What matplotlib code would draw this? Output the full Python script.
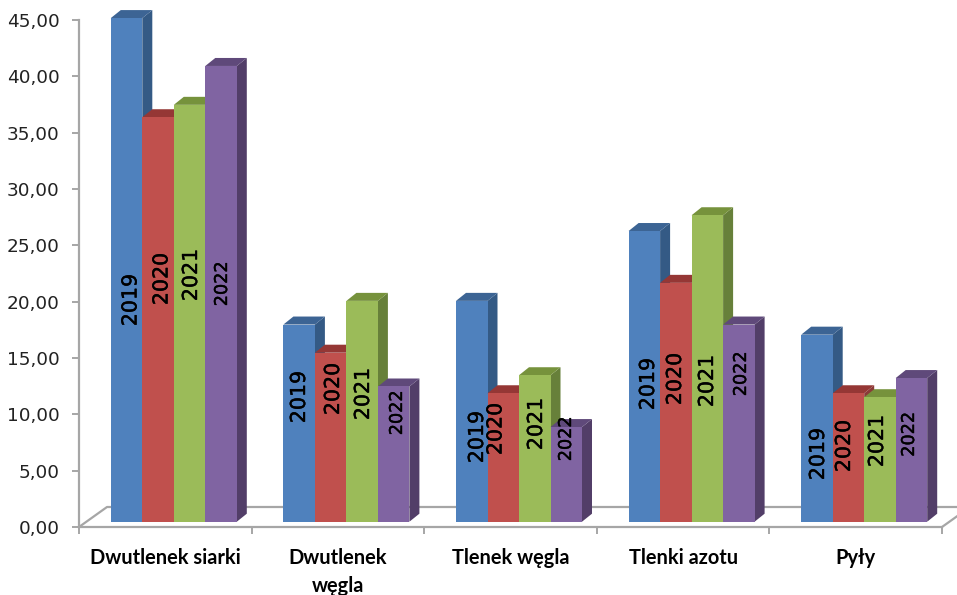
import numpy as np
import matplotlib
matplotlib.use("Agg")
import matplotlib.pyplot as plt
import matplotlib.patheffects as pe
from matplotlib.patches import Polygon

# data
categories = ["Dwutlenek siarki", "Dwutlenek\nwęgla", "Tlenek węgla", "Tlenki azotu", "Pyły"]
years = ["2019", "2020", "2021", "2022"]
values_2019 = [44.7, 17.5, 19.6, 25.8, 16.6]
values_2020 = [35.9, 15.0, 11.4, 21.2, 11.4]
values_2021 = [37.0, 19.6, 13.0, 27.2, 11.05]
values_2022 = [40.45, 12.0, 8.4, 17.5, 12.75]
y_ticks = [0, 5, 10, 15, 20, 25, 30, 35, 40, 45]

series = [values_2019, values_2020, values_2021, values_2022]

# ---------------- layout, in pixels of the 957x595 picture ----------------
W, H = 957, 595
AX_LEFT, AX_RIGHT = 79, 942
AX_BOTTOM, AX_TOP = 527, 20

colors = ["#4F81BD", "#C0504D", "#9BBB59", "#8064A2"]
side_colors = ["#345A85", "#8A3A38", "#67803A", "#523E68"]
top_colors = ["#3C6494", "#953735", "#76923C", "#5F497A"]
grey = "#A6A6A6"

# the year labels were placed by hand in the original, so centres are per label (pixels)
label_cols = [
    [130.5, 299, 477, 648, 818],
    [161.5, 333, 495.5, 675, 844],
    [191, 363, 536, 707, 877],
    [222, 397, 566, 741, 909],
]
label_rows = [
    [300, 397, 437, 384, 454],
    [279, 389, 429, 379, 446],
    [275, 394, 424, 381, 441],
    [284, 413, 439, 374, 434.5],
]
label_sizes = [14.8, 14.8, 14.8, 12.7]

fig = plt.figure(figsize=(W / 100, H / 100), dpi=100)
ax = fig.add_axes([AX_LEFT / W, 1 - AX_BOTTOM / H, (AX_RIGHT - AX_LEFT) / W, (AX_BOTTOM - AX_TOP) / H])
ax.set_xlim(-0.5, len(categories) - 0.5)
ax.set_ylim(0, 45)

px_x = (len(categories)) / (AX_RIGHT - AX_LEFT)
px_y = 45 / (AX_BOTTOM - AX_TOP)

bar_w = 31.5 * px_x
base = 5.3 * px_y
shift = 8.5 * px_x
dx = 10 * px_x
dy = 8 * px_y
floor_dx = 28 * px_x
floor_dy = 20 * px_y

# ---------------- floor ----------------
x0, x1 = -0.5, len(categories) - 0.5
ax.plot([x0, x0 + floor_dx, x1 + floor_dx], [0, floor_dy, floor_dy], color=grey, lw=1.6, clip_on=False, zorder=1)
ax.plot([x1, x1 + floor_dx], [0, floor_dy], color=grey, lw=1.6, clip_on=False, zorder=1)

# ---------------- bars, left to right so the later ones cover the sides ----------------
z = 2
for g in range(len(categories)):
    for s, vals in enumerate(series):
        left = g + shift + (s - 2) * bar_w
        right = left + bar_w
        top = base + vals[g]
        side = [(right, base), (right + dx, base + dy), (right + dx, top + dy), (right, top)]
        lid = [(left, top), (left + dx, top + dy), (right + dx, top + dy), (right, top)]
        ax.add_patch(Polygon(side, fc=side_colors[s], ec="none", clip_on=False, zorder=z))
        ax.add_patch(Polygon(lid, fc=top_colors[s], ec="none", clip_on=False, zorder=z))
        ax.bar(left, vals[g], width=bar_w, bottom=base, align="edge", color=colors[s],
               clip_on=False, zorder=z + 0.1)
        z += 1

# year labels go on top of everything
for s, year in enumerate(years):
    for g in range(len(categories)):
        cx = (label_cols[s][g] - AX_LEFT) * px_x - 0.5
        cy = (AX_BOTTOM - label_rows[s][g]) * px_y
        ax.text(cx, cy, year, rotation=90, ha="center", va="center", fontsize=label_sizes[s], color="black",
                zorder=200, clip_on=False,
                path_effects=[pe.withStroke(linewidth=0.3, foreground="black")])

# ---------------- axes ----------------
for name in ["top", "right"]:
    ax.spines[name].set_visible(False)
for name in ["left", "bottom"]:
    ax.spines[name].set_color(grey)
    ax.spines[name].set_linewidth(1.6)

ax.set_yticks(y_ticks)
ax.set_yticklabels([f"{v:.2f}".replace(".", ",") for v in y_ticks], fontsize=13.3, color="#222222")
ax.tick_params(axis="y", length=5, width=1.4, color=grey, pad=9)

ax.set_xticks(np.arange(len(categories) + 1) - 0.5)
ax.set_xticklabels([])
ax.tick_params(axis="x", which="major", length=5, width=1.4, color=grey)
ax.set_xticks(np.arange(len(categories)), minor=True)
ax.set_xticklabels(categories, minor=True, fontsize=14.4, fontweight="bold", family="Lato", linespacing=1.5, color="black")
ax.tick_params(axis="x", which="minor", length=0, pad=15)

fig.savefig("out.png", dpi=100)
